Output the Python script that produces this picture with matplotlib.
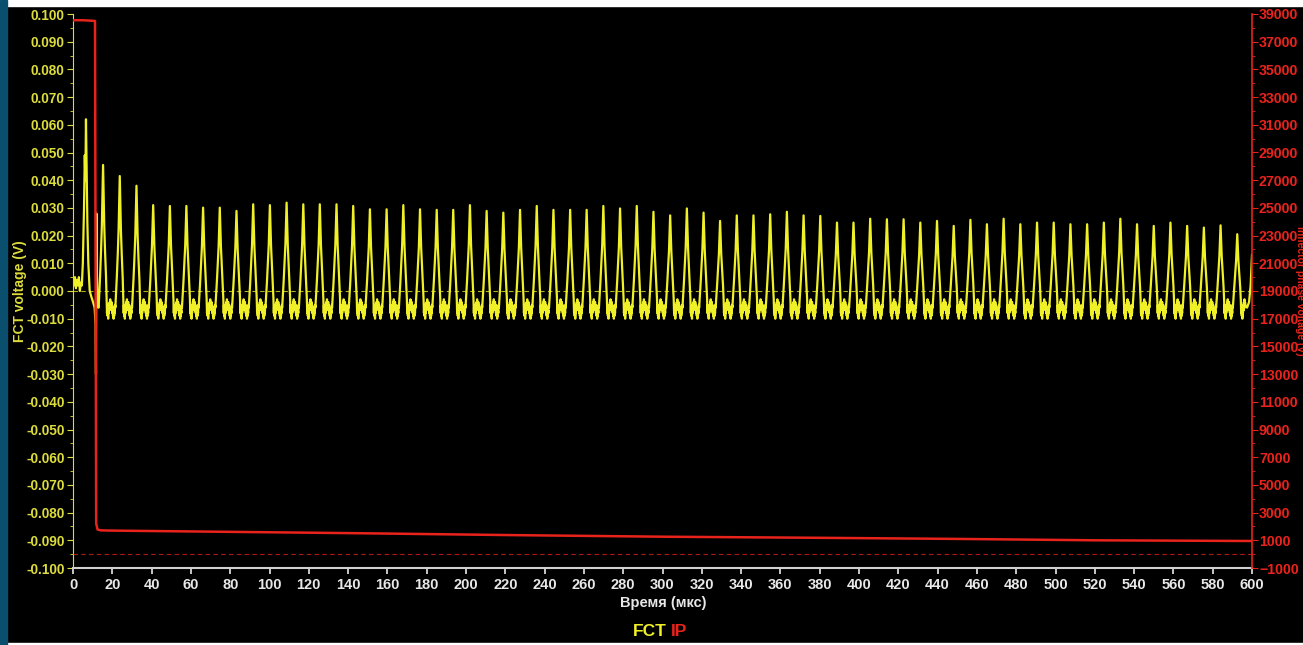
import numpy as np
import matplotlib.pyplot as plt
from matplotlib.patches import Rectangle
from matplotlib.ticker import MultipleLocator

plt.rcParams['font.family'] = ['Liberation Sans', 'DejaVu Sans']
plt.rcParams['font.weight'] = 'bold'

YEL = '#f0f028'
YEL_TXT = '#dcdc3c'
RED = '#e8231c'

# --- FCT signal: first part read by hand (us, V)
start_t = [0, 0.5, 1.0, 1.5, 2.0, 2.5, 3.0, 3.5, 4.0, 4.5, 5.0, 5.6, 6.0, 6.3, 6.6,
           6.9, 7.3, 7.8, 8.5, 9.3, 10.2, 11.0, 11.5, 11.7, 11.9, 12.1, 12.4, 12.9]
start_v = [0.004, 0.002, 0.005, 0.001, 0.004, 0.002, 0.005, 0.000, 0.003, 0.002, 0.010,
           0.030, 0.049, 0.040, 0.062, 0.045, 0.025, 0.010, 0.000, -0.002, -0.004,
           -0.006, -0.012, -0.030, 0.028, 0.010, -0.004, -0.006]

# peak times (us) and peak heights (V)
peak_t = [15.3, 23.8, 32.3, 40.8, 49.3, 57.7, 66.2, 74.7, 83.2, 91.7,
          100.2, 108.7, 117.2, 125.6, 134.1, 142.6, 151.1, 159.6, 168.1, 176.6,
          185.1, 193.5, 202.0, 210.5, 219.0, 227.5, 236.0, 244.5, 253.0, 261.4,
          269.9, 278.4, 286.9, 295.4, 303.9, 312.4, 320.9, 329.3, 337.8, 346.3,
          354.8, 363.3, 371.8, 380.3, 388.8, 397.2, 405.7, 414.2, 422.7, 431.2,
          439.7, 448.2, 456.7, 465.1, 473.6, 482.1, 490.6, 499.1, 507.6, 516.1,
          524.6, 533.0, 541.5, 550.0, 558.5, 567.0, 575.5, 584.0, 592.5]
peak_h = [0.0455, 0.0415, 0.0380,
          0.0310, 0.0307, 0.0307, 0.0301, 0.0301, 0.0289, 0.0313, 0.0310, 0.0319, 0.0313,
          0.0313, 0.0313, 0.0307, 0.0295, 0.0295, 0.0310, 0.0295, 0.0293, 0.0293, 0.0310,
          0.0289, 0.0283, 0.0293, 0.0307, 0.0293, 0.0293, 0.0293, 0.0307, 0.0298, 0.0307,
          0.0286, 0.0273, 0.0298, 0.0283, 0.0253, 0.0273, 0.0273, 0.0277, 0.0286, 0.0273,
          0.0271, 0.0247, 0.0247, 0.0261, 0.0259, 0.0259, 0.0247, 0.0253, 0.0235, 0.0257,
          0.0241, 0.0261, 0.0241, 0.0247, 0.0247, 0.0241, 0.0241, 0.0247, 0.0261, 0.0241,
          0.0235, 0.0247, 0.0235, 0.0229, 0.0237, 0.0205]

# one pulse shape around a peak: offset (us), fraction of peak, baseline (V)
tmpl_dt = [-4.2, -4.05, -3.9, -3.75, -3.6, -3.45, -3.3, -3.15, -3.0, -2.85, -2.7, -2.55, -2.4, -2.25,
           -1.9, -1.5, -1.0, -0.6, -0.3, 0.0, 0.3, 0.6, 1.0, 1.5,
           1.8, 2.0, 2.15, 2.3, 2.45, 2.6, 2.75, 2.9, 3.05, 3.2, 3.35, 3.5, 3.65, 3.8, 3.95, 4.1]
tmpl_frac = [0] * 14 + [0.07, 0.17, 0.33, 0.53, 0.77, 1.0, 0.76, 0.52, 0.32, 0.16] + [0.04] + [0] * 15
tmpl_base = [-0.004, -0.007, -0.005, -0.008, -0.006, -0.009, -0.006, -0.010, -0.007, -0.009,
             -0.007, -0.008, -0.005, -0.006,
             -0.004, -0.002, 0, 0, 0, 0, 0, 0, 0, -0.002,
             -0.004, -0.008, -0.005, -0.009, -0.006, -0.010, -0.007, -0.008, -0.005, -0.007,
             -0.004, -0.006, -0.003, -0.006, -0.004, -0.005]

end_t = [597.5, 598.5, 599.3, 600.0]
end_v = [-0.006, -0.004, 0.002, 0.013]

# --- IP signal (us, a.u.)
ip_t = [0, 5, 11.2, 11.5, 11.8, 12.5, 14, 20, 60, 146, 220, 300, 380, 450, 520, 600]
ip_v = [38550, 38550, 38500, 20000, 2200, 1780, 1720, 1700, 1640, 1510, 1380, 1260, 1180, 1100, 1000, 950]
ip_ticks = [-1000, 1000, 3000, 5000, 7000, 9000, 11000, 13000, 15000, 17000, 19000,
            21000, 23000, 25000, 27000, 29000, 31000, 33000, 35000, 37000, 39000]

# build the FCT trace
fct_t = list(start_t)
fct_v = list(start_v)
for pt, ph in zip(peak_t, peak_h):
    for d, f, b in zip(tmpl_dt, tmpl_frac, tmpl_base):
        t = pt + d
        if t > fct_t[-1]:
            fct_t.append(t)
            fct_v.append(b + f * ph)
fct_t += end_t
fct_v += end_v

fig = plt.figure(figsize=(13.03, 6.45), dpi=100, facecolor='black')
fig.patches.append(Rectangle((0, 1 - 6 / 645), 1, 6 / 645, transform=fig.transFigure,
                             color='white', zorder=0))
fig.patches.append(Rectangle((0, 0), 1, 2 / 645, transform=fig.transFigure,
                             color='white', zorder=0))
fig.patches.append(Rectangle((0, 0), 7 / 1303, 1, transform=fig.transFigure,
                             color='#0b4f6e', zorder=1))

ax = fig.add_axes([73 / 1303, 1 - 568 / 645, (1252 - 73) / 1303, (568 - 14) / 645])
ax.set_facecolor('black')
ax2 = ax.twinx()

ax.axhline(0, color=YEL, lw=0.8, ls=(0, (4, 3)), alpha=0.75)
ax.plot(fct_t, fct_v, color=YEL, lw=1.6)
ax2.axhline(0, color=RED, lw=0.8, ls=(0, (4, 3)), alpha=0.75)
ax2.plot(ip_t, ip_v, color=RED, lw=1.8)

ax.set_xlim(0, 600)
ax.set_ylim(-0.1, 0.1)
ax2.set_ylim(-1000, 39000)

ax.xaxis.set_major_locator(MultipleLocator(20))
ax.yaxis.set_major_locator(MultipleLocator(0.01))
ax.yaxis.set_minor_locator(MultipleLocator(0.005))
ax.yaxis.set_major_formatter(plt.FuncFormatter(lambda v, p: f'{v:.3f}'))
ax2.set_yticks(ip_ticks)
ax2.yaxis.set_minor_locator(MultipleLocator(1000))

for s in ['top', 'right']:
    ax.spines[s].set_visible(False)
for s in ['top', 'left', 'bottom']:
    ax2.spines[s].set_visible(False)
ax.spines['left'].set_color(YEL_TXT)
ax.spines['bottom'].set_color('#d0d0d0')
ax.spines['bottom'].set_linewidth(1.5)
ax2.spines['right'].set_color(RED)
ax2.spines['right'].set_linewidth(1.2)

ax.tick_params(axis='x', colors='#e8e8e8', labelsize=10.5, length=4, width=1.2, pad=3)
ax.tick_params(axis='y', which='major', colors=YEL_TXT, labelsize=9.8, length=4, pad=2)
ax.tick_params(axis='y', which='minor', colors=YEL_TXT, length=2)
ax2.tick_params(axis='y', which='major', colors=RED, labelsize=10.2, length=4, pad=1)
ax2.tick_params(axis='y', which='minor', colors=RED, length=2)

ax.set_xlabel('Время (мкс)', color='#e8e8e8', fontsize=10.5, fontweight='bold')
ax.xaxis.set_label_coords((663 - 73) / 1179, -(596 - 568) / 554)
ax.set_ylabel('FCT voltage (V)', color=YEL_TXT, fontsize=10, fontweight='bold')
ax.yaxis.set_label_coords((27 - 73) / 1179, 0.5)

fig.text(1300 / 1303, 1 - 291 / 645, 'Inflector phase voltage (V)', color=RED,
         fontsize=7.5, fontweight='bold', rotation=270, ha='center', va='center')

fig.text(667 / 1303, 1 - 632 / 645, 'FCT', color=YEL, fontsize=12.5,
         fontweight='bold', ha='right', va='center')
fig.text(671 / 1303, 1 - 632 / 645, 'IP', color=RED, fontsize=12.5,
         fontweight='bold', ha='left', va='center')

fig.savefig('out.png', dpi=100, facecolor='black')
